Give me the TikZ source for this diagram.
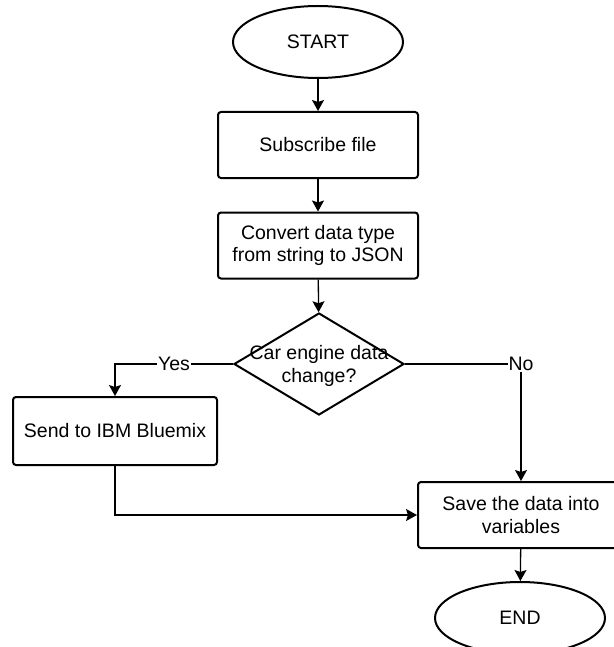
\documentclass[tikz,border=0pt]{standalone}
\usepackage{fontspec}
\setmainfont{Liberation Sans}
\usetikzlibrary{shapes.geometric,arrows.meta}
\begin{document}
\begin{tikzpicture}[x=1pt,y=-1pt,
  every node/.style={font=\fontsize{19.5}{22.5}\selectfont},
  term/.style={ellipse, draw, line width=2pt, minimum width=170pt, minimum height=72pt, inner sep=0pt},
  proc/.style={rectangle, draw, line width=2pt, rounded corners=3pt, minimum width=200pt, minimum height=66pt, align=center, inner sep=0pt},
  decide/.style={diamond, draw, line width=2pt, minimum width=170pt, minimum height=102pt, inner sep=0pt},
  link/.style={line width=1.3pt, -{Stealth[length=11pt,width=12pt,inset=2pt]}},
  tag/.style={fill=white, inner sep=1pt}
]
\useasboundingbox (0,0) rectangle (613,647);

% main column
\node[term] (start) at (318,42) {START};
\node[proc] (sub) at (318,145) {Subscribe file};
\node[proc] (conv) at (318,245.5) {Convert data type\\from string to JSON};
\node[decide] (dec) at (319,364) {};
\node[align=center] (dectxt) at (319,366) {Car engine data\\change?};

% branches
\node[proc, minimum width=204pt, minimum height=68pt] (send) at (115,431) {Send to IBM Bluemix};
\node[proc, minimum width=206pt] (save) at (521,515) {Save the data into\\variables};
\node[term] (end) at (520,618) {END};

% connectors
\draw[link] (start) -- (sub);
\draw[link] (sub) -- (conv);
\draw[link] (conv) -- (dec);
\draw[link] (dec.west) -| (send.north) node[tag, pos=0.25] {Yes};
\draw[link] (dec.east) -| (save.north) node[tag, pos=0.5] {No};
\draw[link] (send.south) |- (save.west);
\draw[link] (save) -- (end);
\end{tikzpicture}
\end{document}
